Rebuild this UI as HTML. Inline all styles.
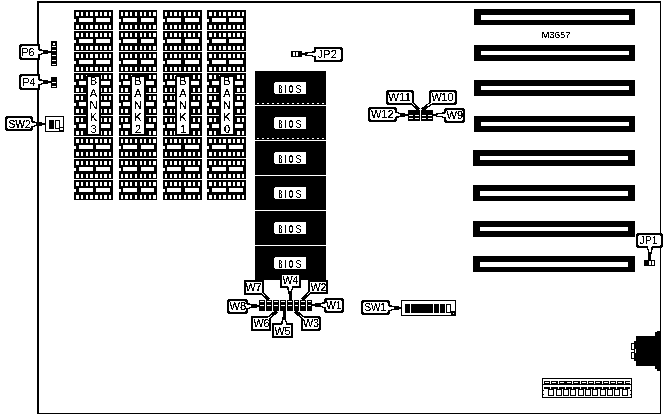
<!DOCTYPE html>
<html><head><meta charset="utf-8"><title>M3657</title>
<style>
html,body{margin:0;padding:0;background:#fff;}
svg{display:block}
text{font-family:"Liberation Sans",sans-serif;fill:#000;}
</style></head><body>
<svg width="667" height="415" viewBox="0 0 667 415" shape-rendering="crispEdges">
<defs><filter id="th" x="0" y="0" width="100%" height="100%" filterUnits="userSpaceOnUse" color-interpolation-filters="sRGB"><feComponentTransfer><feFuncA type="discrete" tableValues="0 0 1 1 1"/></feComponentTransfer></filter></defs>
<rect x="0" y="0" width="667" height="415" fill="#fff"/>
<rect x="37" y="1" width="624" height="2" fill="#000"/>
<rect x="37" y="1" width="2" height="413" fill="#000"/>
<rect x="660" y="1" width="1" height="413" fill="#000"/>
<rect x="37" y="413" width="624" height="1" fill="#000"/>
<rect x="74" y="10" width="39" height="20" fill="#000"/>
<rect x="76" y="12" width="3" height="4" fill="#fff"/>
<rect x="76" y="25" width="3" height="4" fill="#fff"/>
<rect x="81" y="12" width="2" height="4" fill="#fff"/>
<rect x="81" y="25" width="2" height="4" fill="#fff"/>
<rect x="86" y="12" width="2" height="4" fill="#fff"/>
<rect x="86" y="25" width="2" height="4" fill="#fff"/>
<rect x="90" y="12" width="3" height="4" fill="#fff"/>
<rect x="90" y="25" width="3" height="4" fill="#fff"/>
<rect x="95" y="12" width="3" height="4" fill="#fff"/>
<rect x="95" y="25" width="3" height="4" fill="#fff"/>
<rect x="100" y="12" width="2" height="4" fill="#fff"/>
<rect x="100" y="25" width="2" height="4" fill="#fff"/>
<rect x="104" y="12" width="3" height="4" fill="#fff"/>
<rect x="104" y="25" width="3" height="4" fill="#fff"/>
<rect x="109" y="12" width="2" height="4" fill="#fff"/>
<rect x="109" y="25" width="2" height="4" fill="#fff"/>
<rect x="79" y="18" width="14" height="4" fill="#fff"/>
<rect x="96" y="18" width="14" height="4" fill="#fff"/>
<rect x="74" y="19" width="2" height="3" fill="#fff"/>
<rect x="74" y="31" width="39" height="20" fill="#000"/>
<rect x="76" y="33" width="3" height="4" fill="#fff"/>
<rect x="76" y="46" width="3" height="4" fill="#fff"/>
<rect x="81" y="33" width="2" height="4" fill="#fff"/>
<rect x="81" y="46" width="2" height="4" fill="#fff"/>
<rect x="86" y="33" width="2" height="4" fill="#fff"/>
<rect x="86" y="46" width="2" height="4" fill="#fff"/>
<rect x="90" y="33" width="3" height="4" fill="#fff"/>
<rect x="90" y="46" width="3" height="4" fill="#fff"/>
<rect x="95" y="33" width="3" height="4" fill="#fff"/>
<rect x="95" y="46" width="3" height="4" fill="#fff"/>
<rect x="100" y="33" width="2" height="4" fill="#fff"/>
<rect x="100" y="46" width="2" height="4" fill="#fff"/>
<rect x="104" y="33" width="3" height="4" fill="#fff"/>
<rect x="104" y="46" width="3" height="4" fill="#fff"/>
<rect x="109" y="33" width="2" height="4" fill="#fff"/>
<rect x="109" y="46" width="2" height="4" fill="#fff"/>
<rect x="79" y="39" width="14" height="4" fill="#fff"/>
<rect x="96" y="39" width="14" height="4" fill="#fff"/>
<rect x="74" y="40" width="2" height="3" fill="#fff"/>
<rect x="74" y="52" width="39" height="20" fill="#000"/>
<rect x="76" y="54" width="3" height="4" fill="#fff"/>
<rect x="76" y="67" width="3" height="4" fill="#fff"/>
<rect x="81" y="54" width="2" height="4" fill="#fff"/>
<rect x="81" y="67" width="2" height="4" fill="#fff"/>
<rect x="86" y="54" width="2" height="4" fill="#fff"/>
<rect x="86" y="67" width="2" height="4" fill="#fff"/>
<rect x="90" y="54" width="3" height="4" fill="#fff"/>
<rect x="90" y="67" width="3" height="4" fill="#fff"/>
<rect x="95" y="54" width="3" height="4" fill="#fff"/>
<rect x="95" y="67" width="3" height="4" fill="#fff"/>
<rect x="100" y="54" width="2" height="4" fill="#fff"/>
<rect x="100" y="67" width="2" height="4" fill="#fff"/>
<rect x="104" y="54" width="3" height="4" fill="#fff"/>
<rect x="104" y="67" width="3" height="4" fill="#fff"/>
<rect x="109" y="54" width="2" height="4" fill="#fff"/>
<rect x="109" y="67" width="2" height="4" fill="#fff"/>
<rect x="79" y="60" width="14" height="4" fill="#fff"/>
<rect x="96" y="60" width="14" height="4" fill="#fff"/>
<rect x="74" y="61" width="2" height="3" fill="#fff"/>
<rect x="74" y="73" width="39" height="20" fill="#000"/>
<rect x="76" y="75" width="3" height="4" fill="#fff"/>
<rect x="76" y="88" width="3" height="4" fill="#fff"/>
<rect x="81" y="75" width="2" height="4" fill="#fff"/>
<rect x="81" y="88" width="2" height="4" fill="#fff"/>
<rect x="86" y="75" width="2" height="4" fill="#fff"/>
<rect x="86" y="88" width="2" height="4" fill="#fff"/>
<rect x="90" y="75" width="3" height="4" fill="#fff"/>
<rect x="90" y="88" width="3" height="4" fill="#fff"/>
<rect x="95" y="75" width="3" height="4" fill="#fff"/>
<rect x="95" y="88" width="3" height="4" fill="#fff"/>
<rect x="100" y="75" width="2" height="4" fill="#fff"/>
<rect x="100" y="88" width="2" height="4" fill="#fff"/>
<rect x="104" y="75" width="3" height="4" fill="#fff"/>
<rect x="104" y="88" width="3" height="4" fill="#fff"/>
<rect x="109" y="75" width="2" height="4" fill="#fff"/>
<rect x="109" y="88" width="2" height="4" fill="#fff"/>
<rect x="79" y="81" width="14" height="4" fill="#fff"/>
<rect x="96" y="81" width="14" height="4" fill="#fff"/>
<rect x="74" y="82" width="2" height="3" fill="#fff"/>
<rect x="74" y="94" width="39" height="21" fill="#000"/>
<rect x="76" y="96" width="3" height="4" fill="#fff"/>
<rect x="76" y="109" width="3" height="4" fill="#fff"/>
<rect x="81" y="96" width="2" height="4" fill="#fff"/>
<rect x="81" y="109" width="2" height="4" fill="#fff"/>
<rect x="86" y="96" width="2" height="4" fill="#fff"/>
<rect x="86" y="109" width="2" height="4" fill="#fff"/>
<rect x="90" y="96" width="3" height="4" fill="#fff"/>
<rect x="90" y="109" width="3" height="4" fill="#fff"/>
<rect x="95" y="96" width="3" height="4" fill="#fff"/>
<rect x="95" y="109" width="3" height="4" fill="#fff"/>
<rect x="100" y="96" width="2" height="4" fill="#fff"/>
<rect x="100" y="109" width="2" height="4" fill="#fff"/>
<rect x="104" y="96" width="3" height="4" fill="#fff"/>
<rect x="104" y="109" width="3" height="4" fill="#fff"/>
<rect x="109" y="96" width="2" height="4" fill="#fff"/>
<rect x="109" y="109" width="2" height="4" fill="#fff"/>
<rect x="79" y="102" width="14" height="4" fill="#fff"/>
<rect x="96" y="102" width="14" height="4" fill="#fff"/>
<rect x="74" y="103" width="2" height="3" fill="#fff"/>
<rect x="74" y="116" width="39" height="20" fill="#000"/>
<rect x="76" y="118" width="3" height="4" fill="#fff"/>
<rect x="76" y="131" width="3" height="4" fill="#fff"/>
<rect x="81" y="118" width="2" height="4" fill="#fff"/>
<rect x="81" y="131" width="2" height="4" fill="#fff"/>
<rect x="86" y="118" width="2" height="4" fill="#fff"/>
<rect x="86" y="131" width="2" height="4" fill="#fff"/>
<rect x="90" y="118" width="3" height="4" fill="#fff"/>
<rect x="90" y="131" width="3" height="4" fill="#fff"/>
<rect x="95" y="118" width="3" height="4" fill="#fff"/>
<rect x="95" y="131" width="3" height="4" fill="#fff"/>
<rect x="100" y="118" width="2" height="4" fill="#fff"/>
<rect x="100" y="131" width="2" height="4" fill="#fff"/>
<rect x="104" y="118" width="3" height="4" fill="#fff"/>
<rect x="104" y="131" width="3" height="4" fill="#fff"/>
<rect x="109" y="118" width="2" height="4" fill="#fff"/>
<rect x="109" y="131" width="2" height="4" fill="#fff"/>
<rect x="79" y="124" width="14" height="4" fill="#fff"/>
<rect x="96" y="124" width="14" height="4" fill="#fff"/>
<rect x="74" y="125" width="2" height="3" fill="#fff"/>
<rect x="74" y="137" width="39" height="21" fill="#000"/>
<rect x="76" y="139" width="3" height="4" fill="#fff"/>
<rect x="76" y="152" width="3" height="4" fill="#fff"/>
<rect x="81" y="139" width="2" height="4" fill="#fff"/>
<rect x="81" y="152" width="2" height="4" fill="#fff"/>
<rect x="86" y="139" width="2" height="4" fill="#fff"/>
<rect x="86" y="152" width="2" height="4" fill="#fff"/>
<rect x="90" y="139" width="3" height="4" fill="#fff"/>
<rect x="90" y="152" width="3" height="4" fill="#fff"/>
<rect x="95" y="139" width="3" height="4" fill="#fff"/>
<rect x="95" y="152" width="3" height="4" fill="#fff"/>
<rect x="100" y="139" width="2" height="4" fill="#fff"/>
<rect x="100" y="152" width="2" height="4" fill="#fff"/>
<rect x="104" y="139" width="3" height="4" fill="#fff"/>
<rect x="104" y="152" width="3" height="4" fill="#fff"/>
<rect x="109" y="139" width="2" height="4" fill="#fff"/>
<rect x="109" y="152" width="2" height="4" fill="#fff"/>
<rect x="79" y="145" width="14" height="4" fill="#fff"/>
<rect x="96" y="145" width="14" height="4" fill="#fff"/>
<rect x="74" y="146" width="2" height="3" fill="#fff"/>
<rect x="74" y="159" width="39" height="20" fill="#000"/>
<rect x="76" y="161" width="3" height="4" fill="#fff"/>
<rect x="76" y="174" width="3" height="4" fill="#fff"/>
<rect x="81" y="161" width="2" height="4" fill="#fff"/>
<rect x="81" y="174" width="2" height="4" fill="#fff"/>
<rect x="86" y="161" width="2" height="4" fill="#fff"/>
<rect x="86" y="174" width="2" height="4" fill="#fff"/>
<rect x="90" y="161" width="3" height="4" fill="#fff"/>
<rect x="90" y="174" width="3" height="4" fill="#fff"/>
<rect x="95" y="161" width="3" height="4" fill="#fff"/>
<rect x="95" y="174" width="3" height="4" fill="#fff"/>
<rect x="100" y="161" width="2" height="4" fill="#fff"/>
<rect x="100" y="174" width="2" height="4" fill="#fff"/>
<rect x="104" y="161" width="3" height="4" fill="#fff"/>
<rect x="104" y="174" width="3" height="4" fill="#fff"/>
<rect x="109" y="161" width="2" height="4" fill="#fff"/>
<rect x="109" y="174" width="2" height="4" fill="#fff"/>
<rect x="79" y="167" width="14" height="4" fill="#fff"/>
<rect x="96" y="167" width="14" height="4" fill="#fff"/>
<rect x="74" y="168" width="2" height="3" fill="#fff"/>
<rect x="74" y="180" width="39" height="20" fill="#000"/>
<rect x="76" y="182" width="3" height="4" fill="#fff"/>
<rect x="76" y="195" width="3" height="4" fill="#fff"/>
<rect x="81" y="182" width="2" height="4" fill="#fff"/>
<rect x="81" y="195" width="2" height="4" fill="#fff"/>
<rect x="86" y="182" width="2" height="4" fill="#fff"/>
<rect x="86" y="195" width="2" height="4" fill="#fff"/>
<rect x="90" y="182" width="3" height="4" fill="#fff"/>
<rect x="90" y="195" width="3" height="4" fill="#fff"/>
<rect x="95" y="182" width="3" height="4" fill="#fff"/>
<rect x="95" y="195" width="3" height="4" fill="#fff"/>
<rect x="100" y="182" width="2" height="4" fill="#fff"/>
<rect x="100" y="195" width="2" height="4" fill="#fff"/>
<rect x="104" y="182" width="3" height="4" fill="#fff"/>
<rect x="104" y="195" width="3" height="4" fill="#fff"/>
<rect x="109" y="182" width="2" height="4" fill="#fff"/>
<rect x="109" y="195" width="2" height="4" fill="#fff"/>
<rect x="79" y="188" width="14" height="4" fill="#fff"/>
<rect x="96" y="188" width="14" height="4" fill="#fff"/>
<rect x="74" y="189" width="2" height="3" fill="#fff"/>
<rect x="119" y="10" width="38" height="20" fill="#000"/>
<rect x="121" y="12" width="2" height="4" fill="#fff"/>
<rect x="121" y="25" width="2" height="4" fill="#fff"/>
<rect x="125" y="12" width="3" height="4" fill="#fff"/>
<rect x="125" y="25" width="3" height="4" fill="#fff"/>
<rect x="130" y="12" width="2" height="4" fill="#fff"/>
<rect x="130" y="25" width="2" height="4" fill="#fff"/>
<rect x="135" y="12" width="2" height="4" fill="#fff"/>
<rect x="135" y="25" width="2" height="4" fill="#fff"/>
<rect x="140" y="12" width="2" height="4" fill="#fff"/>
<rect x="140" y="25" width="2" height="4" fill="#fff"/>
<rect x="144" y="12" width="2" height="4" fill="#fff"/>
<rect x="144" y="25" width="2" height="4" fill="#fff"/>
<rect x="149" y="12" width="2" height="4" fill="#fff"/>
<rect x="149" y="25" width="2" height="4" fill="#fff"/>
<rect x="153" y="12" width="3" height="4" fill="#fff"/>
<rect x="153" y="25" width="3" height="4" fill="#fff"/>
<rect x="123" y="18" width="14" height="4" fill="#fff"/>
<rect x="141" y="18" width="13" height="4" fill="#fff"/>
<rect x="119" y="19" width="2" height="3" fill="#fff"/>
<rect x="119" y="31" width="38" height="20" fill="#000"/>
<rect x="121" y="33" width="2" height="4" fill="#fff"/>
<rect x="121" y="46" width="2" height="4" fill="#fff"/>
<rect x="125" y="33" width="3" height="4" fill="#fff"/>
<rect x="125" y="46" width="3" height="4" fill="#fff"/>
<rect x="130" y="33" width="2" height="4" fill="#fff"/>
<rect x="130" y="46" width="2" height="4" fill="#fff"/>
<rect x="135" y="33" width="2" height="4" fill="#fff"/>
<rect x="135" y="46" width="2" height="4" fill="#fff"/>
<rect x="140" y="33" width="2" height="4" fill="#fff"/>
<rect x="140" y="46" width="2" height="4" fill="#fff"/>
<rect x="144" y="33" width="2" height="4" fill="#fff"/>
<rect x="144" y="46" width="2" height="4" fill="#fff"/>
<rect x="149" y="33" width="2" height="4" fill="#fff"/>
<rect x="149" y="46" width="2" height="4" fill="#fff"/>
<rect x="153" y="33" width="3" height="4" fill="#fff"/>
<rect x="153" y="46" width="3" height="4" fill="#fff"/>
<rect x="123" y="39" width="14" height="4" fill="#fff"/>
<rect x="141" y="39" width="13" height="4" fill="#fff"/>
<rect x="119" y="40" width="2" height="3" fill="#fff"/>
<rect x="119" y="52" width="38" height="20" fill="#000"/>
<rect x="121" y="54" width="2" height="4" fill="#fff"/>
<rect x="121" y="67" width="2" height="4" fill="#fff"/>
<rect x="125" y="54" width="3" height="4" fill="#fff"/>
<rect x="125" y="67" width="3" height="4" fill="#fff"/>
<rect x="130" y="54" width="2" height="4" fill="#fff"/>
<rect x="130" y="67" width="2" height="4" fill="#fff"/>
<rect x="135" y="54" width="2" height="4" fill="#fff"/>
<rect x="135" y="67" width="2" height="4" fill="#fff"/>
<rect x="140" y="54" width="2" height="4" fill="#fff"/>
<rect x="140" y="67" width="2" height="4" fill="#fff"/>
<rect x="144" y="54" width="2" height="4" fill="#fff"/>
<rect x="144" y="67" width="2" height="4" fill="#fff"/>
<rect x="149" y="54" width="2" height="4" fill="#fff"/>
<rect x="149" y="67" width="2" height="4" fill="#fff"/>
<rect x="153" y="54" width="3" height="4" fill="#fff"/>
<rect x="153" y="67" width="3" height="4" fill="#fff"/>
<rect x="123" y="60" width="14" height="4" fill="#fff"/>
<rect x="141" y="60" width="13" height="4" fill="#fff"/>
<rect x="119" y="61" width="2" height="3" fill="#fff"/>
<rect x="119" y="73" width="38" height="20" fill="#000"/>
<rect x="121" y="75" width="2" height="4" fill="#fff"/>
<rect x="121" y="88" width="2" height="4" fill="#fff"/>
<rect x="125" y="75" width="3" height="4" fill="#fff"/>
<rect x="125" y="88" width="3" height="4" fill="#fff"/>
<rect x="130" y="75" width="2" height="4" fill="#fff"/>
<rect x="130" y="88" width="2" height="4" fill="#fff"/>
<rect x="135" y="75" width="2" height="4" fill="#fff"/>
<rect x="135" y="88" width="2" height="4" fill="#fff"/>
<rect x="140" y="75" width="2" height="4" fill="#fff"/>
<rect x="140" y="88" width="2" height="4" fill="#fff"/>
<rect x="144" y="75" width="2" height="4" fill="#fff"/>
<rect x="144" y="88" width="2" height="4" fill="#fff"/>
<rect x="149" y="75" width="2" height="4" fill="#fff"/>
<rect x="149" y="88" width="2" height="4" fill="#fff"/>
<rect x="153" y="75" width="3" height="4" fill="#fff"/>
<rect x="153" y="88" width="3" height="4" fill="#fff"/>
<rect x="123" y="81" width="14" height="4" fill="#fff"/>
<rect x="141" y="81" width="13" height="4" fill="#fff"/>
<rect x="119" y="82" width="2" height="3" fill="#fff"/>
<rect x="119" y="94" width="38" height="21" fill="#000"/>
<rect x="121" y="96" width="2" height="4" fill="#fff"/>
<rect x="121" y="109" width="2" height="4" fill="#fff"/>
<rect x="125" y="96" width="3" height="4" fill="#fff"/>
<rect x="125" y="109" width="3" height="4" fill="#fff"/>
<rect x="130" y="96" width="2" height="4" fill="#fff"/>
<rect x="130" y="109" width="2" height="4" fill="#fff"/>
<rect x="135" y="96" width="2" height="4" fill="#fff"/>
<rect x="135" y="109" width="2" height="4" fill="#fff"/>
<rect x="140" y="96" width="2" height="4" fill="#fff"/>
<rect x="140" y="109" width="2" height="4" fill="#fff"/>
<rect x="144" y="96" width="2" height="4" fill="#fff"/>
<rect x="144" y="109" width="2" height="4" fill="#fff"/>
<rect x="149" y="96" width="2" height="4" fill="#fff"/>
<rect x="149" y="109" width="2" height="4" fill="#fff"/>
<rect x="153" y="96" width="3" height="4" fill="#fff"/>
<rect x="153" y="109" width="3" height="4" fill="#fff"/>
<rect x="123" y="102" width="14" height="4" fill="#fff"/>
<rect x="141" y="102" width="13" height="4" fill="#fff"/>
<rect x="119" y="103" width="2" height="3" fill="#fff"/>
<rect x="119" y="116" width="38" height="20" fill="#000"/>
<rect x="121" y="118" width="2" height="4" fill="#fff"/>
<rect x="121" y="131" width="2" height="4" fill="#fff"/>
<rect x="125" y="118" width="3" height="4" fill="#fff"/>
<rect x="125" y="131" width="3" height="4" fill="#fff"/>
<rect x="130" y="118" width="2" height="4" fill="#fff"/>
<rect x="130" y="131" width="2" height="4" fill="#fff"/>
<rect x="135" y="118" width="2" height="4" fill="#fff"/>
<rect x="135" y="131" width="2" height="4" fill="#fff"/>
<rect x="140" y="118" width="2" height="4" fill="#fff"/>
<rect x="140" y="131" width="2" height="4" fill="#fff"/>
<rect x="144" y="118" width="2" height="4" fill="#fff"/>
<rect x="144" y="131" width="2" height="4" fill="#fff"/>
<rect x="149" y="118" width="2" height="4" fill="#fff"/>
<rect x="149" y="131" width="2" height="4" fill="#fff"/>
<rect x="153" y="118" width="3" height="4" fill="#fff"/>
<rect x="153" y="131" width="3" height="4" fill="#fff"/>
<rect x="123" y="124" width="14" height="4" fill="#fff"/>
<rect x="141" y="124" width="13" height="4" fill="#fff"/>
<rect x="119" y="125" width="2" height="3" fill="#fff"/>
<rect x="119" y="137" width="38" height="21" fill="#000"/>
<rect x="121" y="139" width="2" height="4" fill="#fff"/>
<rect x="121" y="152" width="2" height="4" fill="#fff"/>
<rect x="125" y="139" width="3" height="4" fill="#fff"/>
<rect x="125" y="152" width="3" height="4" fill="#fff"/>
<rect x="130" y="139" width="2" height="4" fill="#fff"/>
<rect x="130" y="152" width="2" height="4" fill="#fff"/>
<rect x="135" y="139" width="2" height="4" fill="#fff"/>
<rect x="135" y="152" width="2" height="4" fill="#fff"/>
<rect x="140" y="139" width="2" height="4" fill="#fff"/>
<rect x="140" y="152" width="2" height="4" fill="#fff"/>
<rect x="144" y="139" width="2" height="4" fill="#fff"/>
<rect x="144" y="152" width="2" height="4" fill="#fff"/>
<rect x="149" y="139" width="2" height="4" fill="#fff"/>
<rect x="149" y="152" width="2" height="4" fill="#fff"/>
<rect x="153" y="139" width="3" height="4" fill="#fff"/>
<rect x="153" y="152" width="3" height="4" fill="#fff"/>
<rect x="123" y="145" width="14" height="4" fill="#fff"/>
<rect x="141" y="145" width="13" height="4" fill="#fff"/>
<rect x="119" y="146" width="2" height="3" fill="#fff"/>
<rect x="119" y="159" width="38" height="20" fill="#000"/>
<rect x="121" y="161" width="2" height="4" fill="#fff"/>
<rect x="121" y="174" width="2" height="4" fill="#fff"/>
<rect x="125" y="161" width="3" height="4" fill="#fff"/>
<rect x="125" y="174" width="3" height="4" fill="#fff"/>
<rect x="130" y="161" width="2" height="4" fill="#fff"/>
<rect x="130" y="174" width="2" height="4" fill="#fff"/>
<rect x="135" y="161" width="2" height="4" fill="#fff"/>
<rect x="135" y="174" width="2" height="4" fill="#fff"/>
<rect x="140" y="161" width="2" height="4" fill="#fff"/>
<rect x="140" y="174" width="2" height="4" fill="#fff"/>
<rect x="144" y="161" width="2" height="4" fill="#fff"/>
<rect x="144" y="174" width="2" height="4" fill="#fff"/>
<rect x="149" y="161" width="2" height="4" fill="#fff"/>
<rect x="149" y="174" width="2" height="4" fill="#fff"/>
<rect x="153" y="161" width="3" height="4" fill="#fff"/>
<rect x="153" y="174" width="3" height="4" fill="#fff"/>
<rect x="123" y="167" width="14" height="4" fill="#fff"/>
<rect x="141" y="167" width="13" height="4" fill="#fff"/>
<rect x="119" y="168" width="2" height="3" fill="#fff"/>
<rect x="119" y="180" width="38" height="20" fill="#000"/>
<rect x="121" y="182" width="2" height="4" fill="#fff"/>
<rect x="121" y="195" width="2" height="4" fill="#fff"/>
<rect x="125" y="182" width="3" height="4" fill="#fff"/>
<rect x="125" y="195" width="3" height="4" fill="#fff"/>
<rect x="130" y="182" width="2" height="4" fill="#fff"/>
<rect x="130" y="195" width="2" height="4" fill="#fff"/>
<rect x="135" y="182" width="2" height="4" fill="#fff"/>
<rect x="135" y="195" width="2" height="4" fill="#fff"/>
<rect x="140" y="182" width="2" height="4" fill="#fff"/>
<rect x="140" y="195" width="2" height="4" fill="#fff"/>
<rect x="144" y="182" width="2" height="4" fill="#fff"/>
<rect x="144" y="195" width="2" height="4" fill="#fff"/>
<rect x="149" y="182" width="2" height="4" fill="#fff"/>
<rect x="149" y="195" width="2" height="4" fill="#fff"/>
<rect x="153" y="182" width="3" height="4" fill="#fff"/>
<rect x="153" y="195" width="3" height="4" fill="#fff"/>
<rect x="123" y="188" width="14" height="4" fill="#fff"/>
<rect x="141" y="188" width="13" height="4" fill="#fff"/>
<rect x="119" y="189" width="2" height="3" fill="#fff"/>
<rect x="163" y="10" width="39" height="20" fill="#000"/>
<rect x="165" y="12" width="2" height="4" fill="#fff"/>
<rect x="165" y="25" width="2" height="4" fill="#fff"/>
<rect x="170" y="12" width="2" height="4" fill="#fff"/>
<rect x="170" y="25" width="2" height="4" fill="#fff"/>
<rect x="174" y="12" width="3" height="4" fill="#fff"/>
<rect x="174" y="25" width="3" height="4" fill="#fff"/>
<rect x="179" y="12" width="2" height="4" fill="#fff"/>
<rect x="179" y="25" width="2" height="4" fill="#fff"/>
<rect x="184" y="12" width="2" height="4" fill="#fff"/>
<rect x="184" y="25" width="2" height="4" fill="#fff"/>
<rect x="188" y="12" width="3" height="4" fill="#fff"/>
<rect x="188" y="25" width="3" height="4" fill="#fff"/>
<rect x="193" y="12" width="2" height="4" fill="#fff"/>
<rect x="193" y="25" width="2" height="4" fill="#fff"/>
<rect x="198" y="12" width="2" height="4" fill="#fff"/>
<rect x="198" y="25" width="2" height="4" fill="#fff"/>
<rect x="167" y="18" width="14" height="4" fill="#fff"/>
<rect x="185" y="18" width="14" height="4" fill="#fff"/>
<rect x="163" y="19" width="2" height="3" fill="#fff"/>
<rect x="163" y="31" width="39" height="20" fill="#000"/>
<rect x="165" y="33" width="2" height="4" fill="#fff"/>
<rect x="165" y="46" width="2" height="4" fill="#fff"/>
<rect x="170" y="33" width="2" height="4" fill="#fff"/>
<rect x="170" y="46" width="2" height="4" fill="#fff"/>
<rect x="174" y="33" width="3" height="4" fill="#fff"/>
<rect x="174" y="46" width="3" height="4" fill="#fff"/>
<rect x="179" y="33" width="2" height="4" fill="#fff"/>
<rect x="179" y="46" width="2" height="4" fill="#fff"/>
<rect x="184" y="33" width="2" height="4" fill="#fff"/>
<rect x="184" y="46" width="2" height="4" fill="#fff"/>
<rect x="188" y="33" width="3" height="4" fill="#fff"/>
<rect x="188" y="46" width="3" height="4" fill="#fff"/>
<rect x="193" y="33" width="2" height="4" fill="#fff"/>
<rect x="193" y="46" width="2" height="4" fill="#fff"/>
<rect x="198" y="33" width="2" height="4" fill="#fff"/>
<rect x="198" y="46" width="2" height="4" fill="#fff"/>
<rect x="167" y="39" width="14" height="4" fill="#fff"/>
<rect x="185" y="39" width="14" height="4" fill="#fff"/>
<rect x="163" y="40" width="2" height="3" fill="#fff"/>
<rect x="163" y="52" width="39" height="20" fill="#000"/>
<rect x="165" y="54" width="2" height="4" fill="#fff"/>
<rect x="165" y="67" width="2" height="4" fill="#fff"/>
<rect x="170" y="54" width="2" height="4" fill="#fff"/>
<rect x="170" y="67" width="2" height="4" fill="#fff"/>
<rect x="174" y="54" width="3" height="4" fill="#fff"/>
<rect x="174" y="67" width="3" height="4" fill="#fff"/>
<rect x="179" y="54" width="2" height="4" fill="#fff"/>
<rect x="179" y="67" width="2" height="4" fill="#fff"/>
<rect x="184" y="54" width="2" height="4" fill="#fff"/>
<rect x="184" y="67" width="2" height="4" fill="#fff"/>
<rect x="188" y="54" width="3" height="4" fill="#fff"/>
<rect x="188" y="67" width="3" height="4" fill="#fff"/>
<rect x="193" y="54" width="2" height="4" fill="#fff"/>
<rect x="193" y="67" width="2" height="4" fill="#fff"/>
<rect x="198" y="54" width="2" height="4" fill="#fff"/>
<rect x="198" y="67" width="2" height="4" fill="#fff"/>
<rect x="167" y="60" width="14" height="4" fill="#fff"/>
<rect x="185" y="60" width="14" height="4" fill="#fff"/>
<rect x="163" y="61" width="2" height="3" fill="#fff"/>
<rect x="163" y="73" width="39" height="20" fill="#000"/>
<rect x="165" y="75" width="2" height="4" fill="#fff"/>
<rect x="165" y="88" width="2" height="4" fill="#fff"/>
<rect x="170" y="75" width="2" height="4" fill="#fff"/>
<rect x="170" y="88" width="2" height="4" fill="#fff"/>
<rect x="174" y="75" width="3" height="4" fill="#fff"/>
<rect x="174" y="88" width="3" height="4" fill="#fff"/>
<rect x="179" y="75" width="2" height="4" fill="#fff"/>
<rect x="179" y="88" width="2" height="4" fill="#fff"/>
<rect x="184" y="75" width="2" height="4" fill="#fff"/>
<rect x="184" y="88" width="2" height="4" fill="#fff"/>
<rect x="188" y="75" width="3" height="4" fill="#fff"/>
<rect x="188" y="88" width="3" height="4" fill="#fff"/>
<rect x="193" y="75" width="2" height="4" fill="#fff"/>
<rect x="193" y="88" width="2" height="4" fill="#fff"/>
<rect x="198" y="75" width="2" height="4" fill="#fff"/>
<rect x="198" y="88" width="2" height="4" fill="#fff"/>
<rect x="167" y="81" width="14" height="4" fill="#fff"/>
<rect x="185" y="81" width="14" height="4" fill="#fff"/>
<rect x="163" y="82" width="2" height="3" fill="#fff"/>
<rect x="163" y="94" width="39" height="21" fill="#000"/>
<rect x="165" y="96" width="2" height="4" fill="#fff"/>
<rect x="165" y="109" width="2" height="4" fill="#fff"/>
<rect x="170" y="96" width="2" height="4" fill="#fff"/>
<rect x="170" y="109" width="2" height="4" fill="#fff"/>
<rect x="174" y="96" width="3" height="4" fill="#fff"/>
<rect x="174" y="109" width="3" height="4" fill="#fff"/>
<rect x="179" y="96" width="2" height="4" fill="#fff"/>
<rect x="179" y="109" width="2" height="4" fill="#fff"/>
<rect x="184" y="96" width="2" height="4" fill="#fff"/>
<rect x="184" y="109" width="2" height="4" fill="#fff"/>
<rect x="188" y="96" width="3" height="4" fill="#fff"/>
<rect x="188" y="109" width="3" height="4" fill="#fff"/>
<rect x="193" y="96" width="2" height="4" fill="#fff"/>
<rect x="193" y="109" width="2" height="4" fill="#fff"/>
<rect x="198" y="96" width="2" height="4" fill="#fff"/>
<rect x="198" y="109" width="2" height="4" fill="#fff"/>
<rect x="167" y="102" width="14" height="4" fill="#fff"/>
<rect x="185" y="102" width="14" height="4" fill="#fff"/>
<rect x="163" y="103" width="2" height="3" fill="#fff"/>
<rect x="163" y="116" width="39" height="20" fill="#000"/>
<rect x="165" y="118" width="2" height="4" fill="#fff"/>
<rect x="165" y="131" width="2" height="4" fill="#fff"/>
<rect x="170" y="118" width="2" height="4" fill="#fff"/>
<rect x="170" y="131" width="2" height="4" fill="#fff"/>
<rect x="174" y="118" width="3" height="4" fill="#fff"/>
<rect x="174" y="131" width="3" height="4" fill="#fff"/>
<rect x="179" y="118" width="2" height="4" fill="#fff"/>
<rect x="179" y="131" width="2" height="4" fill="#fff"/>
<rect x="184" y="118" width="2" height="4" fill="#fff"/>
<rect x="184" y="131" width="2" height="4" fill="#fff"/>
<rect x="188" y="118" width="3" height="4" fill="#fff"/>
<rect x="188" y="131" width="3" height="4" fill="#fff"/>
<rect x="193" y="118" width="2" height="4" fill="#fff"/>
<rect x="193" y="131" width="2" height="4" fill="#fff"/>
<rect x="198" y="118" width="2" height="4" fill="#fff"/>
<rect x="198" y="131" width="2" height="4" fill="#fff"/>
<rect x="167" y="124" width="14" height="4" fill="#fff"/>
<rect x="185" y="124" width="14" height="4" fill="#fff"/>
<rect x="163" y="125" width="2" height="3" fill="#fff"/>
<rect x="163" y="137" width="39" height="21" fill="#000"/>
<rect x="165" y="139" width="2" height="4" fill="#fff"/>
<rect x="165" y="152" width="2" height="4" fill="#fff"/>
<rect x="170" y="139" width="2" height="4" fill="#fff"/>
<rect x="170" y="152" width="2" height="4" fill="#fff"/>
<rect x="174" y="139" width="3" height="4" fill="#fff"/>
<rect x="174" y="152" width="3" height="4" fill="#fff"/>
<rect x="179" y="139" width="2" height="4" fill="#fff"/>
<rect x="179" y="152" width="2" height="4" fill="#fff"/>
<rect x="184" y="139" width="2" height="4" fill="#fff"/>
<rect x="184" y="152" width="2" height="4" fill="#fff"/>
<rect x="188" y="139" width="3" height="4" fill="#fff"/>
<rect x="188" y="152" width="3" height="4" fill="#fff"/>
<rect x="193" y="139" width="2" height="4" fill="#fff"/>
<rect x="193" y="152" width="2" height="4" fill="#fff"/>
<rect x="198" y="139" width="2" height="4" fill="#fff"/>
<rect x="198" y="152" width="2" height="4" fill="#fff"/>
<rect x="167" y="145" width="14" height="4" fill="#fff"/>
<rect x="185" y="145" width="14" height="4" fill="#fff"/>
<rect x="163" y="146" width="2" height="3" fill="#fff"/>
<rect x="163" y="159" width="39" height="20" fill="#000"/>
<rect x="165" y="161" width="2" height="4" fill="#fff"/>
<rect x="165" y="174" width="2" height="4" fill="#fff"/>
<rect x="170" y="161" width="2" height="4" fill="#fff"/>
<rect x="170" y="174" width="2" height="4" fill="#fff"/>
<rect x="174" y="161" width="3" height="4" fill="#fff"/>
<rect x="174" y="174" width="3" height="4" fill="#fff"/>
<rect x="179" y="161" width="2" height="4" fill="#fff"/>
<rect x="179" y="174" width="2" height="4" fill="#fff"/>
<rect x="184" y="161" width="2" height="4" fill="#fff"/>
<rect x="184" y="174" width="2" height="4" fill="#fff"/>
<rect x="188" y="161" width="3" height="4" fill="#fff"/>
<rect x="188" y="174" width="3" height="4" fill="#fff"/>
<rect x="193" y="161" width="2" height="4" fill="#fff"/>
<rect x="193" y="174" width="2" height="4" fill="#fff"/>
<rect x="198" y="161" width="2" height="4" fill="#fff"/>
<rect x="198" y="174" width="2" height="4" fill="#fff"/>
<rect x="167" y="167" width="14" height="4" fill="#fff"/>
<rect x="185" y="167" width="14" height="4" fill="#fff"/>
<rect x="163" y="168" width="2" height="3" fill="#fff"/>
<rect x="163" y="180" width="39" height="20" fill="#000"/>
<rect x="165" y="182" width="2" height="4" fill="#fff"/>
<rect x="165" y="195" width="2" height="4" fill="#fff"/>
<rect x="170" y="182" width="2" height="4" fill="#fff"/>
<rect x="170" y="195" width="2" height="4" fill="#fff"/>
<rect x="174" y="182" width="3" height="4" fill="#fff"/>
<rect x="174" y="195" width="3" height="4" fill="#fff"/>
<rect x="179" y="182" width="2" height="4" fill="#fff"/>
<rect x="179" y="195" width="2" height="4" fill="#fff"/>
<rect x="184" y="182" width="2" height="4" fill="#fff"/>
<rect x="184" y="195" width="2" height="4" fill="#fff"/>
<rect x="188" y="182" width="3" height="4" fill="#fff"/>
<rect x="188" y="195" width="3" height="4" fill="#fff"/>
<rect x="193" y="182" width="2" height="4" fill="#fff"/>
<rect x="193" y="195" width="2" height="4" fill="#fff"/>
<rect x="198" y="182" width="2" height="4" fill="#fff"/>
<rect x="198" y="195" width="2" height="4" fill="#fff"/>
<rect x="167" y="188" width="14" height="4" fill="#fff"/>
<rect x="185" y="188" width="14" height="4" fill="#fff"/>
<rect x="163" y="189" width="2" height="3" fill="#fff"/>
<rect x="207" y="10" width="39" height="20" fill="#000"/>
<rect x="209" y="12" width="3" height="4" fill="#fff"/>
<rect x="209" y="25" width="3" height="4" fill="#fff"/>
<rect x="214" y="12" width="2" height="4" fill="#fff"/>
<rect x="214" y="25" width="2" height="4" fill="#fff"/>
<rect x="219" y="12" width="2" height="4" fill="#fff"/>
<rect x="219" y="25" width="2" height="4" fill="#fff"/>
<rect x="223" y="12" width="3" height="4" fill="#fff"/>
<rect x="223" y="25" width="3" height="4" fill="#fff"/>
<rect x="228" y="12" width="3" height="4" fill="#fff"/>
<rect x="228" y="25" width="3" height="4" fill="#fff"/>
<rect x="233" y="12" width="2" height="4" fill="#fff"/>
<rect x="233" y="25" width="2" height="4" fill="#fff"/>
<rect x="237" y="12" width="3" height="4" fill="#fff"/>
<rect x="237" y="25" width="3" height="4" fill="#fff"/>
<rect x="242" y="12" width="2" height="4" fill="#fff"/>
<rect x="242" y="25" width="2" height="4" fill="#fff"/>
<rect x="212" y="18" width="14" height="4" fill="#fff"/>
<rect x="229" y="18" width="14" height="4" fill="#fff"/>
<rect x="207" y="19" width="2" height="3" fill="#fff"/>
<rect x="207" y="31" width="39" height="20" fill="#000"/>
<rect x="209" y="33" width="3" height="4" fill="#fff"/>
<rect x="209" y="46" width="3" height="4" fill="#fff"/>
<rect x="214" y="33" width="2" height="4" fill="#fff"/>
<rect x="214" y="46" width="2" height="4" fill="#fff"/>
<rect x="219" y="33" width="2" height="4" fill="#fff"/>
<rect x="219" y="46" width="2" height="4" fill="#fff"/>
<rect x="223" y="33" width="3" height="4" fill="#fff"/>
<rect x="223" y="46" width="3" height="4" fill="#fff"/>
<rect x="228" y="33" width="3" height="4" fill="#fff"/>
<rect x="228" y="46" width="3" height="4" fill="#fff"/>
<rect x="233" y="33" width="2" height="4" fill="#fff"/>
<rect x="233" y="46" width="2" height="4" fill="#fff"/>
<rect x="237" y="33" width="3" height="4" fill="#fff"/>
<rect x="237" y="46" width="3" height="4" fill="#fff"/>
<rect x="242" y="33" width="2" height="4" fill="#fff"/>
<rect x="242" y="46" width="2" height="4" fill="#fff"/>
<rect x="212" y="39" width="14" height="4" fill="#fff"/>
<rect x="229" y="39" width="14" height="4" fill="#fff"/>
<rect x="207" y="40" width="2" height="3" fill="#fff"/>
<rect x="207" y="52" width="39" height="20" fill="#000"/>
<rect x="209" y="54" width="3" height="4" fill="#fff"/>
<rect x="209" y="67" width="3" height="4" fill="#fff"/>
<rect x="214" y="54" width="2" height="4" fill="#fff"/>
<rect x="214" y="67" width="2" height="4" fill="#fff"/>
<rect x="219" y="54" width="2" height="4" fill="#fff"/>
<rect x="219" y="67" width="2" height="4" fill="#fff"/>
<rect x="223" y="54" width="3" height="4" fill="#fff"/>
<rect x="223" y="67" width="3" height="4" fill="#fff"/>
<rect x="228" y="54" width="3" height="4" fill="#fff"/>
<rect x="228" y="67" width="3" height="4" fill="#fff"/>
<rect x="233" y="54" width="2" height="4" fill="#fff"/>
<rect x="233" y="67" width="2" height="4" fill="#fff"/>
<rect x="237" y="54" width="3" height="4" fill="#fff"/>
<rect x="237" y="67" width="3" height="4" fill="#fff"/>
<rect x="242" y="54" width="2" height="4" fill="#fff"/>
<rect x="242" y="67" width="2" height="4" fill="#fff"/>
<rect x="212" y="60" width="14" height="4" fill="#fff"/>
<rect x="229" y="60" width="14" height="4" fill="#fff"/>
<rect x="207" y="61" width="2" height="3" fill="#fff"/>
<rect x="207" y="73" width="39" height="20" fill="#000"/>
<rect x="209" y="75" width="3" height="4" fill="#fff"/>
<rect x="209" y="88" width="3" height="4" fill="#fff"/>
<rect x="214" y="75" width="2" height="4" fill="#fff"/>
<rect x="214" y="88" width="2" height="4" fill="#fff"/>
<rect x="219" y="75" width="2" height="4" fill="#fff"/>
<rect x="219" y="88" width="2" height="4" fill="#fff"/>
<rect x="223" y="75" width="3" height="4" fill="#fff"/>
<rect x="223" y="88" width="3" height="4" fill="#fff"/>
<rect x="228" y="75" width="3" height="4" fill="#fff"/>
<rect x="228" y="88" width="3" height="4" fill="#fff"/>
<rect x="233" y="75" width="2" height="4" fill="#fff"/>
<rect x="233" y="88" width="2" height="4" fill="#fff"/>
<rect x="237" y="75" width="3" height="4" fill="#fff"/>
<rect x="237" y="88" width="3" height="4" fill="#fff"/>
<rect x="242" y="75" width="2" height="4" fill="#fff"/>
<rect x="242" y="88" width="2" height="4" fill="#fff"/>
<rect x="212" y="81" width="14" height="4" fill="#fff"/>
<rect x="229" y="81" width="14" height="4" fill="#fff"/>
<rect x="207" y="82" width="2" height="3" fill="#fff"/>
<rect x="207" y="94" width="39" height="21" fill="#000"/>
<rect x="209" y="96" width="3" height="4" fill="#fff"/>
<rect x="209" y="109" width="3" height="4" fill="#fff"/>
<rect x="214" y="96" width="2" height="4" fill="#fff"/>
<rect x="214" y="109" width="2" height="4" fill="#fff"/>
<rect x="219" y="96" width="2" height="4" fill="#fff"/>
<rect x="219" y="109" width="2" height="4" fill="#fff"/>
<rect x="223" y="96" width="3" height="4" fill="#fff"/>
<rect x="223" y="109" width="3" height="4" fill="#fff"/>
<rect x="228" y="96" width="3" height="4" fill="#fff"/>
<rect x="228" y="109" width="3" height="4" fill="#fff"/>
<rect x="233" y="96" width="2" height="4" fill="#fff"/>
<rect x="233" y="109" width="2" height="4" fill="#fff"/>
<rect x="237" y="96" width="3" height="4" fill="#fff"/>
<rect x="237" y="109" width="3" height="4" fill="#fff"/>
<rect x="242" y="96" width="2" height="4" fill="#fff"/>
<rect x="242" y="109" width="2" height="4" fill="#fff"/>
<rect x="212" y="102" width="14" height="4" fill="#fff"/>
<rect x="229" y="102" width="14" height="4" fill="#fff"/>
<rect x="207" y="103" width="2" height="3" fill="#fff"/>
<rect x="207" y="116" width="39" height="20" fill="#000"/>
<rect x="209" y="118" width="3" height="4" fill="#fff"/>
<rect x="209" y="131" width="3" height="4" fill="#fff"/>
<rect x="214" y="118" width="2" height="4" fill="#fff"/>
<rect x="214" y="131" width="2" height="4" fill="#fff"/>
<rect x="219" y="118" width="2" height="4" fill="#fff"/>
<rect x="219" y="131" width="2" height="4" fill="#fff"/>
<rect x="223" y="118" width="3" height="4" fill="#fff"/>
<rect x="223" y="131" width="3" height="4" fill="#fff"/>
<rect x="228" y="118" width="3" height="4" fill="#fff"/>
<rect x="228" y="131" width="3" height="4" fill="#fff"/>
<rect x="233" y="118" width="2" height="4" fill="#fff"/>
<rect x="233" y="131" width="2" height="4" fill="#fff"/>
<rect x="237" y="118" width="3" height="4" fill="#fff"/>
<rect x="237" y="131" width="3" height="4" fill="#fff"/>
<rect x="242" y="118" width="2" height="4" fill="#fff"/>
<rect x="242" y="131" width="2" height="4" fill="#fff"/>
<rect x="212" y="124" width="14" height="4" fill="#fff"/>
<rect x="229" y="124" width="14" height="4" fill="#fff"/>
<rect x="207" y="125" width="2" height="3" fill="#fff"/>
<rect x="207" y="137" width="39" height="21" fill="#000"/>
<rect x="209" y="139" width="3" height="4" fill="#fff"/>
<rect x="209" y="152" width="3" height="4" fill="#fff"/>
<rect x="214" y="139" width="2" height="4" fill="#fff"/>
<rect x="214" y="152" width="2" height="4" fill="#fff"/>
<rect x="219" y="139" width="2" height="4" fill="#fff"/>
<rect x="219" y="152" width="2" height="4" fill="#fff"/>
<rect x="223" y="139" width="3" height="4" fill="#fff"/>
<rect x="223" y="152" width="3" height="4" fill="#fff"/>
<rect x="228" y="139" width="3" height="4" fill="#fff"/>
<rect x="228" y="152" width="3" height="4" fill="#fff"/>
<rect x="233" y="139" width="2" height="4" fill="#fff"/>
<rect x="233" y="152" width="2" height="4" fill="#fff"/>
<rect x="237" y="139" width="3" height="4" fill="#fff"/>
<rect x="237" y="152" width="3" height="4" fill="#fff"/>
<rect x="242" y="139" width="2" height="4" fill="#fff"/>
<rect x="242" y="152" width="2" height="4" fill="#fff"/>
<rect x="212" y="145" width="14" height="4" fill="#fff"/>
<rect x="229" y="145" width="14" height="4" fill="#fff"/>
<rect x="207" y="146" width="2" height="3" fill="#fff"/>
<rect x="207" y="159" width="39" height="20" fill="#000"/>
<rect x="209" y="161" width="3" height="4" fill="#fff"/>
<rect x="209" y="174" width="3" height="4" fill="#fff"/>
<rect x="214" y="161" width="2" height="4" fill="#fff"/>
<rect x="214" y="174" width="2" height="4" fill="#fff"/>
<rect x="219" y="161" width="2" height="4" fill="#fff"/>
<rect x="219" y="174" width="2" height="4" fill="#fff"/>
<rect x="223" y="161" width="3" height="4" fill="#fff"/>
<rect x="223" y="174" width="3" height="4" fill="#fff"/>
<rect x="228" y="161" width="3" height="4" fill="#fff"/>
<rect x="228" y="174" width="3" height="4" fill="#fff"/>
<rect x="233" y="161" width="2" height="4" fill="#fff"/>
<rect x="233" y="174" width="2" height="4" fill="#fff"/>
<rect x="237" y="161" width="3" height="4" fill="#fff"/>
<rect x="237" y="174" width="3" height="4" fill="#fff"/>
<rect x="242" y="161" width="2" height="4" fill="#fff"/>
<rect x="242" y="174" width="2" height="4" fill="#fff"/>
<rect x="212" y="167" width="14" height="4" fill="#fff"/>
<rect x="229" y="167" width="14" height="4" fill="#fff"/>
<rect x="207" y="168" width="2" height="3" fill="#fff"/>
<rect x="207" y="180" width="39" height="20" fill="#000"/>
<rect x="209" y="182" width="3" height="4" fill="#fff"/>
<rect x="209" y="195" width="3" height="4" fill="#fff"/>
<rect x="214" y="182" width="2" height="4" fill="#fff"/>
<rect x="214" y="195" width="2" height="4" fill="#fff"/>
<rect x="219" y="182" width="2" height="4" fill="#fff"/>
<rect x="219" y="195" width="2" height="4" fill="#fff"/>
<rect x="223" y="182" width="3" height="4" fill="#fff"/>
<rect x="223" y="195" width="3" height="4" fill="#fff"/>
<rect x="228" y="182" width="3" height="4" fill="#fff"/>
<rect x="228" y="195" width="3" height="4" fill="#fff"/>
<rect x="233" y="182" width="2" height="4" fill="#fff"/>
<rect x="233" y="195" width="2" height="4" fill="#fff"/>
<rect x="237" y="182" width="3" height="4" fill="#fff"/>
<rect x="237" y="195" width="3" height="4" fill="#fff"/>
<rect x="242" y="182" width="2" height="4" fill="#fff"/>
<rect x="242" y="195" width="2" height="4" fill="#fff"/>
<rect x="212" y="188" width="14" height="4" fill="#fff"/>
<rect x="229" y="188" width="14" height="4" fill="#fff"/>
<rect x="207" y="189" width="2" height="3" fill="#fff"/>
<rect x="86" y="75" width="14.5" height="61" fill="#000"/>
<rect x="86" y="75" width="1" height="1" fill="#fff"/>
<rect x="88" y="77" width="11" height="57" fill="#fff"/>
<rect x="130" y="75" width="15.5" height="61" fill="#000"/>
<rect x="131" y="75" width="1" height="1" fill="#fff"/>
<rect x="132" y="77" width="12" height="57" fill="#fff"/>
<rect x="175" y="75" width="15.5" height="61" fill="#000"/>
<rect x="175" y="75" width="1" height="1" fill="#fff"/>
<rect x="177" y="77" width="12" height="57" fill="#fff"/>
<rect x="219" y="75" width="15.5" height="61" fill="#000"/>
<rect x="219" y="75" width="1" height="1" fill="#fff"/>
<rect x="221" y="77" width="12" height="57" fill="#fff"/>
<rect x="255" y="71" width="71" height="209" fill="#000"/>
<rect x="255" y="105" width="71" height="1" fill="#fff"/>
<rect x="255" y="140" width="71" height="1" fill="#fff"/>
<rect x="255" y="175" width="71" height="1" fill="#fff"/>
<rect x="255" y="210" width="71" height="1" fill="#fff"/>
<rect x="255" y="245" width="71" height="1" fill="#fff"/>
<line x1="257" y1="103.5" x2="325" y2="103.5" stroke="#fff" stroke-width="1" stroke-dasharray="2 3"/>
<line x1="257" y1="138.5" x2="325" y2="138.5" stroke="#fff" stroke-width="1" stroke-dasharray="2 3"/>
<rect x="274" y="82" width="32" height="12" fill="#fff"/>
<rect x="274" y="82" width="1" height="1" fill="#000"/>
<rect x="274" y="93" width="1" height="1" fill="#000"/>
<rect x="274" y="117" width="32" height="12" fill="#fff"/>
<rect x="274" y="117" width="1" height="1" fill="#000"/>
<rect x="274" y="128" width="1" height="1" fill="#000"/>
<rect x="274" y="152" width="32" height="12" fill="#fff"/>
<rect x="274" y="152" width="1" height="1" fill="#000"/>
<rect x="274" y="163" width="1" height="1" fill="#000"/>
<rect x="274" y="187" width="32" height="12" fill="#fff"/>
<rect x="274" y="187" width="1" height="1" fill="#000"/>
<rect x="274" y="198" width="1" height="1" fill="#000"/>
<rect x="274" y="222" width="32" height="12" fill="#fff"/>
<rect x="274" y="222" width="1" height="1" fill="#000"/>
<rect x="274" y="233" width="1" height="1" fill="#000"/>
<rect x="274" y="257" width="32" height="12" fill="#fff"/>
<rect x="274" y="257" width="1" height="1" fill="#000"/>
<rect x="274" y="268" width="1" height="1" fill="#000"/>
<rect x="474" y="9" width="161" height="16" fill="#000"/>
<rect x="481" y="15" width="148" height="5" fill="#fff"/>
<rect x="474" y="45" width="161" height="16" fill="#000"/>
<rect x="481" y="51" width="148" height="4" fill="#fff"/>
<rect x="474" y="80" width="161" height="16" fill="#000"/>
<rect x="481" y="86" width="148" height="4" fill="#fff"/>
<rect x="474" y="116" width="161" height="16" fill="#000"/>
<rect x="481" y="122" width="148" height="4" fill="#fff"/>
<rect x="473" y="150" width="162" height="16" fill="#000"/>
<rect x="480" y="156" width="148" height="4" fill="#fff"/>
<rect x="473" y="185" width="162" height="16" fill="#000"/>
<rect x="480" y="191" width="148" height="5" fill="#fff"/>
<rect x="473" y="221" width="162" height="16" fill="#000"/>
<rect x="480" y="227" width="148" height="4" fill="#fff"/>
<rect x="473" y="256" width="162" height="16" fill="#000"/>
<rect x="480" y="262" width="148" height="5" fill="#fff"/>
<rect x="19" y="44" width="21" height="16" fill="#000"/>
<rect x="21" y="46" width="17" height="12" fill="#fff"/>
<rect x="19" y="44" width="1" height="1" fill="#fff"/>
<rect x="19" y="59" width="1" height="1" fill="#fff"/>
<rect x="21" y="46" width="1" height="1" fill="#000"/>
<rect x="21" y="57" width="1" height="1" fill="#000"/>
<rect x="38" y="49" width="4" height="6" fill="#000"/>
<rect x="39" y="50" width="9" height="4" fill="#000"/>
<rect x="48" y="51" width="3" height="2" fill="#000"/>
<rect x="38" y="50" width="1" height="4" fill="#fff"/>
<rect x="38" y="50.5" width="3" height="3.0" fill="#fff"/>
<rect x="41" y="51" width="2" height="2" fill="#fff"/>
<rect x="19" y="74" width="21" height="16" fill="#000"/>
<rect x="21" y="76" width="17" height="12" fill="#fff"/>
<rect x="19" y="74" width="1" height="1" fill="#fff"/>
<rect x="19" y="89" width="1" height="1" fill="#fff"/>
<rect x="21" y="76" width="1" height="1" fill="#000"/>
<rect x="21" y="87" width="1" height="1" fill="#000"/>
<rect x="38" y="79" width="4" height="6" fill="#000"/>
<rect x="39" y="80" width="9" height="4" fill="#000"/>
<rect x="48" y="81" width="3" height="2" fill="#000"/>
<rect x="38" y="80" width="1" height="4" fill="#fff"/>
<rect x="38" y="80.5" width="3" height="3.0" fill="#fff"/>
<rect x="41" y="81" width="2" height="2" fill="#fff"/>
<rect x="5" y="116" width="28" height="15" fill="#000"/>
<rect x="7" y="118" width="24" height="11" fill="#fff"/>
<rect x="5" y="116" width="1" height="1" fill="#fff"/>
<rect x="5" y="130" width="1" height="1" fill="#fff"/>
<rect x="7" y="118" width="1" height="1" fill="#000"/>
<rect x="7" y="128" width="1" height="1" fill="#000"/>
<rect x="32" y="116" width="1" height="1" fill="#fff"/>
<rect x="32" y="130" width="1" height="1" fill="#fff"/>
<rect x="30" y="118" width="1" height="1" fill="#000"/>
<rect x="30" y="128" width="1" height="1" fill="#000"/>
<rect x="31" y="121" width="4" height="6" fill="#000"/>
<rect x="32" y="122" width="10" height="4" fill="#000"/>
<rect x="42" y="123" width="3" height="2" fill="#000"/>
<rect x="31" y="122" width="1" height="4" fill="#fff"/>
<rect x="31" y="122.5" width="3" height="3.0" fill="#fff"/>
<rect x="34" y="123" width="2" height="2" fill="#fff"/>
<rect x="51" y="41" width="6" height="25" fill="#000"/>
<rect x="53" y="43" width="2" height="2" fill="#fff"/>
<rect x="52" y="46" width="4" height="1" fill="#fff"/>
<rect x="52" y="50" width="4" height="1" fill="#fff"/>
<rect x="52" y="55" width="4" height="1" fill="#fff"/>
<rect x="52" y="60" width="4" height="1" fill="#fff"/>
<rect x="52" y="64" width="4" height="1" fill="#fff"/>
<rect x="51" y="77" width="6" height="11" fill="#000"/>
<rect x="52" y="82" width="4" height="1" fill="#fff"/>
<rect x="52" y="86" width="4" height="1" fill="#fff"/>
<rect x="45" y="116" width="19" height="16" fill="#000"/>
<rect x="46" y="117" width="17" height="14" fill="#fff"/>
<rect x="49" y="120" width="5" height="9" fill="#000"/>
<rect x="55" y="120" width="5" height="9" fill="#000"/>
<rect x="56" y="121" width="3" height="7" fill="#fff"/>
<rect x="59" y="127" width="5" height="5" fill="#000"/>
<rect x="60" y="128" width="3" height="2" fill="#fff"/>
<rect x="291" y="51" width="11" height="6" fill="#000"/>
<rect x="293" y="52" width="2" height="4" fill="#fff"/>
<rect x="296" y="52" width="2" height="4" fill="#fff"/>
<rect x="314" y="47" width="29" height="15" fill="#000"/>
<rect x="316" y="49" width="25" height="11" fill="#fff"/>
<rect x="342" y="47" width="1" height="1" fill="#fff"/>
<rect x="342" y="61" width="1" height="1" fill="#fff"/>
<rect x="340" y="49" width="1" height="1" fill="#000"/>
<rect x="340" y="59" width="1" height="1" fill="#000"/>
<rect x="312" y="51" width="4" height="6" fill="#000"/>
<rect x="305" y="52" width="10" height="4" fill="#000"/>
<rect x="302" y="53" width="3" height="2" fill="#000"/>
<rect x="315" y="52" width="1" height="4" fill="#fff"/>
<rect x="313" y="52.5" width="3" height="3.0" fill="#fff"/>
<rect x="308" y="53" width="5" height="2" fill="#fff"/>
<rect x="307" y="53.5" width="1" height="1.0" fill="#fff"/>
<rect x="259" y="300" width="6" height="11" fill="#000"/>
<rect x="260" y="301" width="4" height="1" fill="#fff"/>
<rect x="260" y="305" width="4" height="1" fill="#fff"/>
<rect x="266" y="300" width="6" height="11" fill="#000"/>
<rect x="267" y="301" width="4" height="1" fill="#fff"/>
<rect x="267" y="305" width="4" height="1" fill="#fff"/>
<rect x="273" y="300" width="6" height="11" fill="#000"/>
<rect x="274" y="301" width="4" height="1" fill="#fff"/>
<rect x="274" y="305" width="4" height="1" fill="#fff"/>
<rect x="280" y="300" width="6" height="11" fill="#000"/>
<rect x="281" y="301" width="4" height="1" fill="#fff"/>
<rect x="281" y="305" width="4" height="1" fill="#fff"/>
<rect x="287" y="300" width="6" height="11" fill="#000"/>
<rect x="288" y="301" width="4" height="1" fill="#fff"/>
<rect x="288" y="305" width="4" height="1" fill="#fff"/>
<rect x="294" y="300" width="5" height="11" fill="#000"/>
<rect x="295" y="301" width="3" height="1" fill="#fff"/>
<rect x="295" y="305" width="3" height="1" fill="#fff"/>
<rect x="300" y="300" width="6" height="11" fill="#000"/>
<rect x="301" y="301" width="4" height="1" fill="#fff"/>
<rect x="301" y="305" width="4" height="1" fill="#fff"/>
<rect x="307" y="300" width="5" height="11" fill="#000"/>
<rect x="308" y="301" width="3" height="1" fill="#fff"/>
<rect x="308" y="305" width="3" height="1" fill="#fff"/>
<rect x="244" y="280" width="20" height="15" fill="#000"/>
<rect x="246" y="282" width="16" height="11" fill="#fff"/>
<line x1="263" y1="294" x2="269" y2="300" stroke="#000" stroke-width="3.6"/>
<line x1="261.5" y1="292.5" x2="264.8" y2="295.8" stroke="#fff" stroke-width="1.2"/>
<rect x="227" y="299" width="21" height="15" fill="#000"/>
<rect x="229" y="301" width="17" height="11" fill="#fff"/>
<rect x="227" y="299" width="1" height="1" fill="#fff"/>
<rect x="227" y="313" width="1" height="1" fill="#fff"/>
<rect x="229" y="301" width="1" height="1" fill="#000"/>
<rect x="229" y="311" width="1" height="1" fill="#000"/>
<rect x="247" y="299" width="1" height="1" fill="#fff"/>
<rect x="247" y="313" width="1" height="1" fill="#fff"/>
<rect x="245" y="301" width="1" height="1" fill="#000"/>
<rect x="245" y="311" width="1" height="1" fill="#000"/>
<rect x="246" y="303" width="4" height="6" fill="#000"/>
<rect x="247" y="304" width="10" height="4" fill="#000"/>
<rect x="257" y="305" width="2" height="2" fill="#000"/>
<rect x="246" y="304" width="1" height="4" fill="#fff"/>
<rect x="246" y="304.5" width="3" height="3.0" fill="#fff"/>
<rect x="249" y="305" width="2" height="2" fill="#fff"/>
<rect x="280" y="273" width="21" height="15" fill="#000"/>
<rect x="282" y="275" width="17" height="11" fill="#fff"/>
<rect x="287" y="286" width="6" height="4" fill="#000"/>
<rect x="288" y="287" width="4" height="7" fill="#000"/>
<rect x="288.5" y="294" width="3.0" height="6" fill="#000"/>
<rect x="288" y="286" width="4" height="1" fill="#fff"/>
<rect x="288.5" y="286" width="3.0" height="3" fill="#fff"/>
<rect x="289" y="289" width="2" height="2" fill="#fff"/>
<rect x="308" y="280" width="20" height="14" fill="#000"/>
<rect x="310" y="282" width="16" height="10" fill="#fff"/>
<line x1="309" y1="293" x2="302" y2="300" stroke="#000" stroke-width="3.6"/>
<line x1="310.75" y1="291.25" x2="306.9" y2="295.1" stroke="#fff" stroke-width="1.2"/>
<rect x="324" y="298" width="20" height="15" fill="#000"/>
<rect x="326" y="300" width="16" height="11" fill="#fff"/>
<rect x="324" y="298" width="1" height="1" fill="#fff"/>
<rect x="324" y="312" width="1" height="1" fill="#fff"/>
<rect x="326" y="300" width="1" height="1" fill="#000"/>
<rect x="326" y="310" width="1" height="1" fill="#000"/>
<rect x="343" y="298" width="1" height="1" fill="#fff"/>
<rect x="343" y="312" width="1" height="1" fill="#fff"/>
<rect x="341" y="300" width="1" height="1" fill="#000"/>
<rect x="341" y="310" width="1" height="1" fill="#000"/>
<rect x="322" y="302" width="4" height="6" fill="#000"/>
<rect x="315" y="303" width="10" height="4" fill="#000"/>
<rect x="312" y="304" width="3" height="2" fill="#000"/>
<rect x="325" y="303" width="1" height="4" fill="#fff"/>
<rect x="323" y="303.5" width="3" height="3.0" fill="#fff"/>
<rect x="321" y="304" width="2" height="2" fill="#fff"/>
<rect x="301" y="316" width="20" height="15" fill="#000"/>
<rect x="303" y="318" width="16" height="11" fill="#fff"/>
<rect x="320" y="316" width="1" height="1" fill="#fff"/>
<rect x="320" y="330" width="1" height="1" fill="#fff"/>
<rect x="318" y="318" width="1" height="1" fill="#000"/>
<rect x="318" y="328" width="1" height="1" fill="#000"/>
<line x1="302" y1="317" x2="295" y2="311" stroke="#000" stroke-width="3.6"/>
<line x1="303.75" y1="318.5" x2="299.9" y2="315.2" stroke="#fff" stroke-width="1.2"/>
<rect x="251" y="316" width="20" height="15" fill="#000"/>
<rect x="253" y="318" width="16" height="11" fill="#fff"/>
<line x1="270" y1="317" x2="277" y2="311" stroke="#000" stroke-width="3.6"/>
<line x1="268.25" y1="318.5" x2="272.1" y2="315.2" stroke="#fff" stroke-width="1.2"/>
<rect x="272" y="323" width="21" height="15" fill="#000"/>
<rect x="274" y="325" width="17" height="11" fill="#fff"/>
<rect x="281" y="321" width="6" height="4" fill="#000"/>
<rect x="282" y="317" width="4" height="7" fill="#000"/>
<rect x="282.5" y="311" width="3.0" height="6" fill="#000"/>
<rect x="282" y="324" width="4" height="1" fill="#fff"/>
<rect x="282.5" y="322" width="3.0" height="3" fill="#fff"/>
<rect x="283" y="320" width="2" height="2" fill="#fff"/>
<rect x="408" y="110" width="12" height="11" fill="#000"/>
<rect x="413.5" y="110" width="0.8" height="11" fill="#fff"/>
<rect x="409" y="115" width="4" height="1" fill="#fff"/>
<rect x="409" y="118" width="4" height="1" fill="#fff"/>
<rect x="415" y="115" width="4" height="1" fill="#fff"/>
<rect x="415" y="118" width="4" height="1" fill="#fff"/>
<rect x="421" y="110" width="12" height="11" fill="#000"/>
<rect x="426.5" y="110" width="0.8" height="11" fill="#fff"/>
<rect x="422" y="115" width="4" height="1" fill="#fff"/>
<rect x="422" y="118" width="4" height="1" fill="#fff"/>
<rect x="428" y="115" width="4" height="1" fill="#fff"/>
<rect x="428" y="118" width="4" height="1" fill="#fff"/>
<rect x="386" y="90" width="28" height="15" fill="#000"/>
<rect x="388" y="92" width="24" height="11" fill="#fff"/>
<rect x="386" y="90" width="1" height="1" fill="#fff"/>
<rect x="386" y="104" width="1" height="1" fill="#fff"/>
<rect x="388" y="92" width="1" height="1" fill="#000"/>
<rect x="388" y="102" width="1" height="1" fill="#000"/>
<rect x="413" y="90" width="1" height="1" fill="#fff"/>
<rect x="413" y="104" width="1" height="1" fill="#fff"/>
<rect x="411" y="92" width="1" height="1" fill="#000"/>
<rect x="411" y="102" width="1" height="1" fill="#000"/>
<line x1="413" y1="104" x2="419" y2="110" stroke="#000" stroke-width="3.6"/>
<line x1="411.5" y1="102.5" x2="414.8" y2="105.8" stroke="#fff" stroke-width="1.2"/>
<rect x="368" y="107" width="29" height="15" fill="#000"/>
<rect x="370" y="109" width="25" height="11" fill="#fff"/>
<rect x="368" y="107" width="1" height="1" fill="#fff"/>
<rect x="368" y="121" width="1" height="1" fill="#fff"/>
<rect x="370" y="109" width="1" height="1" fill="#000"/>
<rect x="370" y="119" width="1" height="1" fill="#000"/>
<rect x="396" y="107" width="1" height="1" fill="#fff"/>
<rect x="396" y="121" width="1" height="1" fill="#fff"/>
<rect x="394" y="109" width="1" height="1" fill="#000"/>
<rect x="394" y="119" width="1" height="1" fill="#000"/>
<rect x="395" y="111.5" width="4" height="6.0" fill="#000"/>
<rect x="396" y="112.5" width="9" height="4.0" fill="#000"/>
<rect x="405" y="113.5" width="3" height="2.0" fill="#000"/>
<rect x="395" y="112.5" width="1" height="4.0" fill="#fff"/>
<rect x="395" y="113.0" width="3" height="3.0" fill="#fff"/>
<rect x="398" y="113.5" width="2" height="2.0" fill="#fff"/>
<rect x="429" y="90" width="28" height="15" fill="#000"/>
<rect x="431" y="92" width="24" height="11" fill="#fff"/>
<rect x="429" y="90" width="1" height="1" fill="#fff"/>
<rect x="429" y="104" width="1" height="1" fill="#fff"/>
<rect x="431" y="92" width="1" height="1" fill="#000"/>
<rect x="431" y="102" width="1" height="1" fill="#000"/>
<rect x="456" y="90" width="1" height="1" fill="#fff"/>
<rect x="456" y="104" width="1" height="1" fill="#fff"/>
<rect x="454" y="92" width="1" height="1" fill="#000"/>
<rect x="454" y="102" width="1" height="1" fill="#000"/>
<line x1="430" y1="104" x2="422" y2="110" stroke="#000" stroke-width="3.6"/>
<line x1="432.0" y1="102.5" x2="427.6" y2="105.8" stroke="#fff" stroke-width="1.2"/>
<rect x="444" y="108" width="21" height="15" fill="#000"/>
<rect x="446" y="110" width="17" height="11" fill="#fff"/>
<rect x="444" y="108" width="1" height="1" fill="#fff"/>
<rect x="444" y="122" width="1" height="1" fill="#fff"/>
<rect x="446" y="110" width="1" height="1" fill="#000"/>
<rect x="446" y="120" width="1" height="1" fill="#000"/>
<rect x="464" y="108" width="1" height="1" fill="#fff"/>
<rect x="464" y="122" width="1" height="1" fill="#fff"/>
<rect x="462" y="110" width="1" height="1" fill="#000"/>
<rect x="462" y="120" width="1" height="1" fill="#000"/>
<rect x="442" y="112" width="4" height="6" fill="#000"/>
<rect x="436" y="113" width="9" height="4" fill="#000"/>
<rect x="433" y="114" width="3" height="2" fill="#000"/>
<rect x="445" y="113" width="1" height="4" fill="#fff"/>
<rect x="443" y="113.5" width="3" height="3.0" fill="#fff"/>
<rect x="438" y="114" width="5" height="2" fill="#fff"/>
<rect x="437" y="114.5" width="1" height="1.0" fill="#fff"/>
<rect x="361" y="300" width="29" height="15" fill="#000"/>
<rect x="363" y="302" width="25" height="11" fill="#fff"/>
<rect x="361" y="300" width="1" height="1" fill="#fff"/>
<rect x="361" y="314" width="1" height="1" fill="#fff"/>
<rect x="363" y="302" width="1" height="1" fill="#000"/>
<rect x="363" y="312" width="1" height="1" fill="#000"/>
<rect x="389" y="300" width="1" height="1" fill="#fff"/>
<rect x="389" y="314" width="1" height="1" fill="#fff"/>
<rect x="387" y="302" width="1" height="1" fill="#000"/>
<rect x="387" y="312" width="1" height="1" fill="#000"/>
<rect x="388" y="305" width="4" height="6" fill="#000"/>
<rect x="389" y="306" width="10" height="4" fill="#000"/>
<rect x="399" y="307" width="2" height="2" fill="#000"/>
<rect x="388" y="306" width="1" height="4" fill="#fff"/>
<rect x="388" y="306.5" width="3" height="3.0" fill="#fff"/>
<rect x="391" y="307" width="3" height="2" fill="#fff"/>
<rect x="401" y="300" width="55" height="16" fill="#000"/>
<rect x="402" y="301" width="53" height="14" fill="#fff"/>
<rect x="405" y="304" width="5" height="9" fill="#000"/>
<rect x="411" y="304" width="17" height="9" fill="#000"/>
<rect x="428" y="304" width="5" height="9" fill="#000"/>
<rect x="434" y="304" width="5" height="9" fill="#000"/>
<rect x="440" y="304" width="5" height="9" fill="#000"/>
<rect x="446" y="304" width="5" height="9" fill="#000"/>
<rect x="447" y="305" width="3" height="7" fill="#fff"/>
<rect x="451" y="311" width="5" height="5" fill="#000"/>
<rect x="452.5" y="312.5" width="1.5" height="1.5" fill="#fff"/>
<rect x="636" y="233" width="27" height="15" fill="#000"/>
<rect x="638" y="235" width="23" height="11" fill="#fff"/>
<rect x="636" y="233" width="1" height="1" fill="#fff"/>
<rect x="636" y="247" width="1" height="1" fill="#fff"/>
<rect x="638" y="235" width="1" height="1" fill="#000"/>
<rect x="638" y="245" width="1" height="1" fill="#000"/>
<rect x="662" y="233" width="1" height="1" fill="#fff"/>
<rect x="662" y="247" width="1" height="1" fill="#fff"/>
<rect x="660" y="235" width="1" height="1" fill="#000"/>
<rect x="660" y="245" width="1" height="1" fill="#000"/>
<rect x="646.5" y="246" width="6.0" height="4" fill="#000"/>
<rect x="647.5" y="247" width="4.0" height="7" fill="#000"/>
<rect x="648.0" y="254" width="3.0" height="6" fill="#000"/>
<rect x="647.5" y="246" width="4.0" height="1" fill="#fff"/>
<rect x="648.0" y="246" width="3.0" height="3" fill="#fff"/>
<rect x="648.5" y="249" width="2.0" height="3" fill="#fff"/>
<rect x="644" y="260" width="11" height="6" fill="#000"/>
<rect x="649" y="261" width="1.5" height="4" fill="#fff"/>
<rect x="652" y="261" width="1.5" height="4" fill="#fff"/>
<rect x="636" y="336" width="20" height="30" fill="#000"/>
<rect x="655" y="332" width="3" height="37" fill="#000"/>
<rect x="657" y="331" width="3" height="40" fill="#000"/>
<rect x="634" y="341" width="3" height="20" fill="#000"/>
<rect x="631" y="343" width="4" height="7" fill="#000"/>
<rect x="632" y="344" width="2" height="5" fill="#fff"/>
<rect x="631" y="352" width="4" height="7" fill="#000"/>
<rect x="632" y="353" width="2" height="5" fill="#fff"/>
<rect x="634.5" y="349" width="1" height="4" fill="#fff"/>
<rect x="542" y="378" width="90" height="20" fill="#000"/>
<rect x="543" y="379" width="88" height="18" fill="#fff"/>
<rect x="544" y="381" width="86" height="3" fill="#000"/>
<rect x="543" y="384" width="88" height="1" fill="#000"/>
<rect x="544" y="387" width="86" height="2" fill="#000"/>
<rect x="550" y="381" width="1" height="3" fill="#fff"/>
<rect x="550" y="387" width="1" height="2" fill="#fff"/>
<rect x="547.5" y="389" width="6" height="7" fill="#000"/>
<rect x="548.5" y="390" width="4" height="5" fill="#fff"/>
<rect x="558" y="381" width="1" height="3" fill="#fff"/>
<rect x="558" y="387" width="1" height="2" fill="#fff"/>
<rect x="555.5" y="389" width="6" height="7" fill="#000"/>
<rect x="556.5" y="390" width="4" height="5" fill="#fff"/>
<rect x="565" y="387" width="1" height="2" fill="#fff"/>
<rect x="562.5" y="389" width="6" height="7" fill="#000"/>
<rect x="563.5" y="390" width="4" height="5" fill="#fff"/>
<rect x="572" y="381" width="1" height="3" fill="#fff"/>
<rect x="572" y="387" width="1" height="2" fill="#fff"/>
<rect x="569.5" y="389" width="6" height="7" fill="#000"/>
<rect x="570.5" y="390" width="4" height="5" fill="#fff"/>
<rect x="580" y="381" width="1" height="3" fill="#fff"/>
<rect x="580" y="387" width="1" height="2" fill="#fff"/>
<rect x="577.5" y="389" width="6" height="7" fill="#000"/>
<rect x="578.5" y="390" width="4" height="5" fill="#fff"/>
<rect x="587" y="381" width="1" height="3" fill="#fff"/>
<rect x="587" y="387" width="1" height="2" fill="#fff"/>
<rect x="584.5" y="389" width="6" height="7" fill="#000"/>
<rect x="585.5" y="390" width="4" height="5" fill="#fff"/>
<rect x="594" y="381" width="1" height="3" fill="#fff"/>
<rect x="594" y="387" width="1" height="2" fill="#fff"/>
<rect x="591.5" y="389" width="6" height="7" fill="#000"/>
<rect x="592.5" y="390" width="4" height="5" fill="#fff"/>
<rect x="602" y="381" width="1" height="3" fill="#fff"/>
<rect x="602" y="387" width="1" height="2" fill="#fff"/>
<rect x="599.5" y="389" width="6" height="7" fill="#000"/>
<rect x="600.5" y="390" width="4" height="5" fill="#fff"/>
<rect x="609" y="381" width="1" height="3" fill="#fff"/>
<rect x="609" y="387" width="1" height="2" fill="#fff"/>
<rect x="606.5" y="389" width="6" height="7" fill="#000"/>
<rect x="607.5" y="390" width="4" height="5" fill="#fff"/>
<rect x="616" y="381" width="1" height="3" fill="#fff"/>
<rect x="616" y="387" width="1" height="2" fill="#fff"/>
<rect x="613.5" y="389" width="6" height="7" fill="#000"/>
<rect x="614.5" y="390" width="4" height="5" fill="#fff"/>
<rect x="624" y="381" width="1" height="3" fill="#fff"/>
<rect x="624" y="387" width="1" height="2" fill="#fff"/>
<rect x="621.5" y="389" width="6" height="7" fill="#000"/>
<rect x="622.5" y="390" width="4" height="5" fill="#fff"/>
<rect x="545" y="382" width="4" height="1" fill="#fff"/>
<rect x="552" y="382" width="4" height="1" fill="#fff"/>
<rect x="560" y="382" width="4" height="1" fill="#fff"/>
<rect x="567" y="382" width="4" height="1" fill="#fff"/>
<rect x="574" y="382" width="4" height="1" fill="#fff"/>
<rect x="582" y="382" width="4" height="1" fill="#fff"/>
<rect x="589" y="382" width="4" height="1" fill="#fff"/>
<rect x="596" y="382" width="4" height="1" fill="#fff"/>
<rect x="604" y="382" width="4" height="1" fill="#fff"/>
<rect x="611" y="382" width="4" height="1" fill="#fff"/>
<rect x="618" y="382" width="4" height="1" fill="#fff"/>
<rect x="626" y="382" width="4" height="1" fill="#fff"/>
<rect x="543" y="390" width="1" height="1" fill="#000"/>
<rect x="543" y="394" width="1" height="1" fill="#000"/>
<rect x="630" y="390" width="1" height="1" fill="#000"/>
<rect x="630" y="394" width="1" height="1" fill="#000"/>
<g filter="url(#th)">
<text aria-label="BANK3" font-size="11" text-anchor="middle"><tspan x="93.5" y="85">B</tspan><tspan x="93.5" y="97">A</tspan><tspan x="93.5" y="109">N</tspan><tspan x="93.5" y="121">K</tspan><tspan x="93.5" y="133">3</tspan></text>
<text aria-label="BANK2" font-size="11" text-anchor="middle"><tspan x="138.0" y="85">B</tspan><tspan x="138.0" y="97">A</tspan><tspan x="138.0" y="109">N</tspan><tspan x="138.0" y="121">K</tspan><tspan x="138.0" y="133">2</tspan></text>
<text aria-label="BANK1" font-size="11" text-anchor="middle"><tspan x="183.0" y="85">B</tspan><tspan x="183.0" y="97">A</tspan><tspan x="183.0" y="109">N</tspan><tspan x="183.0" y="121">K</tspan><tspan x="183.0" y="133">1</tspan></text>
<text aria-label="BANK0" font-size="11" text-anchor="middle"><tspan x="227.0" y="85">B</tspan><tspan x="227.0" y="97">A</tspan><tspan x="227.0" y="109">N</tspan><tspan x="227.0" y="121">K</tspan><tspan x="227.0" y="133">0</tspan></text>
<text aria-label="BIOS" y="92.8" font-size="10.9"><tspan x="278.80" font-weight="bold" textLength="3.41" lengthAdjust="spacingAndGlyphs">B</tspan><tspan x="284.80" font-weight="bold" textLength="1.39" lengthAdjust="spacingAndGlyphs">I</tspan><tspan x="288.80" font-weight="bold" textLength="4.39" lengthAdjust="spacingAndGlyphs">O</tspan><tspan x="295.80" textLength="5.42" lengthAdjust="spacingAndGlyphs">S</tspan></text>
<text aria-label="BIOS" y="127.8" font-size="10.9"><tspan x="278.80" font-weight="bold" textLength="3.41" lengthAdjust="spacingAndGlyphs">B</tspan><tspan x="284.80" font-weight="bold" textLength="1.39" lengthAdjust="spacingAndGlyphs">I</tspan><tspan x="288.80" font-weight="bold" textLength="4.39" lengthAdjust="spacingAndGlyphs">O</tspan><tspan x="295.80" textLength="5.42" lengthAdjust="spacingAndGlyphs">S</tspan></text>
<text aria-label="BIOS" y="162.8" font-size="10.9"><tspan x="278.80" font-weight="bold" textLength="3.41" lengthAdjust="spacingAndGlyphs">B</tspan><tspan x="284.80" font-weight="bold" textLength="1.39" lengthAdjust="spacingAndGlyphs">I</tspan><tspan x="288.80" font-weight="bold" textLength="4.39" lengthAdjust="spacingAndGlyphs">O</tspan><tspan x="295.80" textLength="5.42" lengthAdjust="spacingAndGlyphs">S</tspan></text>
<text aria-label="BIOS" y="197.8" font-size="10.9"><tspan x="278.80" font-weight="bold" textLength="3.41" lengthAdjust="spacingAndGlyphs">B</tspan><tspan x="284.80" font-weight="bold" textLength="1.39" lengthAdjust="spacingAndGlyphs">I</tspan><tspan x="288.80" font-weight="bold" textLength="4.39" lengthAdjust="spacingAndGlyphs">O</tspan><tspan x="295.80" textLength="5.42" lengthAdjust="spacingAndGlyphs">S</tspan></text>
<text aria-label="BIOS" y="232.8" font-size="10.9"><tspan x="278.80" font-weight="bold" textLength="3.41" lengthAdjust="spacingAndGlyphs">B</tspan><tspan x="284.80" font-weight="bold" textLength="1.39" lengthAdjust="spacingAndGlyphs">I</tspan><tspan x="288.80" font-weight="bold" textLength="4.39" lengthAdjust="spacingAndGlyphs">O</tspan><tspan x="295.80" textLength="5.42" lengthAdjust="spacingAndGlyphs">S</tspan></text>
<text aria-label="BIOS" y="267.8" font-size="10.9"><tspan x="278.80" font-weight="bold" textLength="3.41" lengthAdjust="spacingAndGlyphs">B</tspan><tspan x="284.80" font-weight="bold" textLength="1.39" lengthAdjust="spacingAndGlyphs">I</tspan><tspan x="288.80" font-weight="bold" textLength="4.39" lengthAdjust="spacingAndGlyphs">O</tspan><tspan x="295.80" textLength="5.42" lengthAdjust="spacingAndGlyphs">S</tspan></text>
<text y="38" font-size="9.6" x="541.40" textLength="29.18" lengthAdjust="spacingAndGlyphs">M3657</text>
<text y="56" font-size="11" x="21.40" textLength="13.18" lengthAdjust="spacingAndGlyphs">P6</text>
<text y="86" font-size="11" x="22.40" textLength="13.18" lengthAdjust="spacingAndGlyphs">P4</text>
<text y="128" font-size="11" x="8.40" textLength="22.22" lengthAdjust="spacingAndGlyphs">SW2</text>
<text y="58" font-size="11" x="317.40" textLength="19.68" lengthAdjust="spacingAndGlyphs">JP2</text>
<text y="291" font-size="11" x="245.40" textLength="16.20" lengthAdjust="spacingAndGlyphs">W7</text>
<text y="310" font-size="11" x="229.40" textLength="16.70" lengthAdjust="spacingAndGlyphs">W8</text>
<text y="284" font-size="11" x="282.40" textLength="16.20" lengthAdjust="spacingAndGlyphs">W4</text>
<text y="291" font-size="11" x="310.40" textLength="16.20" lengthAdjust="spacingAndGlyphs">W2</text>
<text y="309" font-size="11" x="325.90" textLength="15.70" lengthAdjust="spacingAndGlyphs">W1</text>
<text y="327" font-size="11" x="302.90" textLength="16.20" lengthAdjust="spacingAndGlyphs">W3</text>
<text y="327" font-size="11" x="253.40" textLength="16.20" lengthAdjust="spacingAndGlyphs">W6</text>
<text y="335" font-size="11" x="274.40" textLength="16.20" lengthAdjust="spacingAndGlyphs">W5</text>
<text y="101" font-size="11" x="387.90" textLength="23.22" lengthAdjust="spacingAndGlyphs">W11</text>
<text y="118" font-size="11" x="370.90" textLength="22.71" lengthAdjust="spacingAndGlyphs">W12</text>
<text y="101" font-size="11" x="431.40" textLength="22.21" lengthAdjust="spacingAndGlyphs">W10</text>
<text y="119" font-size="11" x="446.40" textLength="16.70" lengthAdjust="spacingAndGlyphs">W9</text>
<text y="311" font-size="11" x="364.40" textLength="21.72" lengthAdjust="spacingAndGlyphs">SW1</text>
<text y="244" font-size="11" x="639.40" textLength="18.18" lengthAdjust="spacingAndGlyphs">JP1</text>
</g>
</svg>
</body></html>
